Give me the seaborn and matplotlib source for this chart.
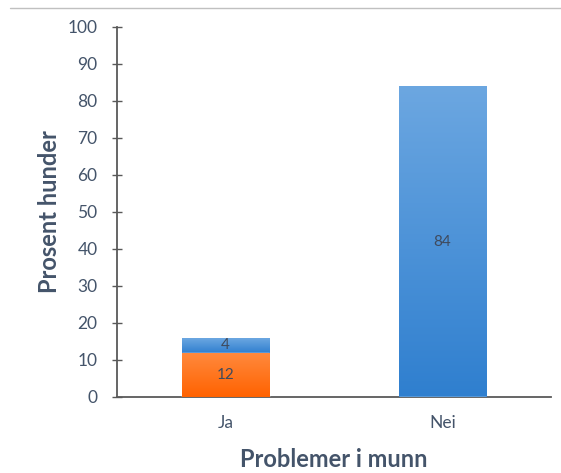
import numpy as np
import pandas as pd
import matplotlib
matplotlib.use("Agg")
import matplotlib.pyplot as plt
from matplotlib.colors import LinearSegmentedColormap
from matplotlib.lines import Line2D
import seaborn as sns

# Survey answers: share of dogs with mouth problems
categories = ["Ja", "Nei"]
orange_part = [12, 0]     # lower (orange) segment
blue_part = [4, 84]       # upper (blue) segment
y_ticks = list(range(0, 101, 10))

totals = [o + b for o, b in zip(orange_part, blue_part)]
df = pd.DataFrame({"kategori": categories, "total": totals, "nedre": orange_part})

sns.set_style("white")
plt.rcParams["font.family"] = ["Lato", "DejaVu Sans"]

text_col = "#44546A"
axis_col = "#595959"

fig = plt.figure(figsize=(5.61, 4.73), dpi=100)
ax = fig.add_axes([0.2086, 0.1607, 0.7734, 0.7823])

# total height in blue, orange part drawn over it
sns.barplot(data=df, x="kategori", y="total", color="#4A90D9", width=0.405,
            saturation=1, ax=ax, zorder=2)
n_blue = len(ax.patches)
sns.barplot(data=df, x="kategori", y="nedre", color="#FF6A10", width=0.405,
            saturation=1, ax=ax, zorder=4)

blue_cmap = LinearSegmentedColormap.from_list("blaa", ["#2F7FCF", "#6CA7E1"])
orange_cmap = LinearSegmentedColormap.from_list("oransje", ["#FF6200", "#FF8A3E"])
grad = np.linspace(0, 1, 256).reshape(-1, 1)

blue_patches = ax.patches[:n_blue]
orange_patches = ax.patches[n_blue:]
for i, p in enumerate(blue_patches):
    lo, hi = orange_part[i], totals[i]
    if hi - lo <= 0:
        continue
    x0 = p.get_x()
    im = ax.imshow(grad, cmap=blue_cmap, extent=(x0, x0 + p.get_width(), lo, hi),
                   origin="lower", aspect="auto", zorder=3, interpolation="bicubic")
    im.set_clip_path(p)
for i, p in enumerate(orange_patches):
    hi = orange_part[i]
    if hi <= 0:
        continue
    x0 = p.get_x()
    im = ax.imshow(grad, cmap=orange_cmap, extent=(x0, x0 + p.get_width(), 0, hi),
                   origin="lower", aspect="auto", zorder=5, interpolation="bicubic")
    im.set_clip_path(p)

# value labels in the middle of each segment
for i in range(len(categories)):
    if orange_part[i] > 0:
        ax.text(i, orange_part[i] / 2, str(orange_part[i]), ha="center", va="center",
                fontsize=11, color="#3F4A5C", zorder=6)
    if blue_part[i] > 0:
        ax.text(i, orange_part[i] + blue_part[i] / 2, str(blue_part[i]), ha="center",
                va="center", fontsize=11, color="#3F4A5C", zorder=6)

ax.set_xlim(-0.5, 1.5)
ax.set_ylim(0, 100)
ax.set_yticks(y_ticks)
ax.set_yticklabels([str(t) for t in y_ticks], fontsize=12.5, color=text_col)
ax.tick_params(axis="y", direction="inout", length=7, width=1, color=axis_col,
               pad=10.5, left=True)
ax.tick_params(axis="x", length=0, pad=13, labelsize=12.5, labelcolor=text_col)

sns.despine(ax=ax, top=True, right=True)
for s in ("left", "bottom"):
    ax.spines[s].set_color(axis_col)
    ax.spines[s].set_linewidth(1.3)

ax.set_xlabel("Problemer i munn", fontsize=17, fontweight="bold", color=text_col,
              labelpad=12)
ax.set_ylabel("Prosent hunder", fontsize=17, fontweight="bold", color=text_col,
              labelpad=5)

# thin rule across the top of the figure
fig.add_artist(Line2D([0.018, 1.0], [0.983, 0.983], transform=fig.transFigure,
                      color="#C0C0C0", linewidth=1))

fig.savefig("out.png", dpi=100)
